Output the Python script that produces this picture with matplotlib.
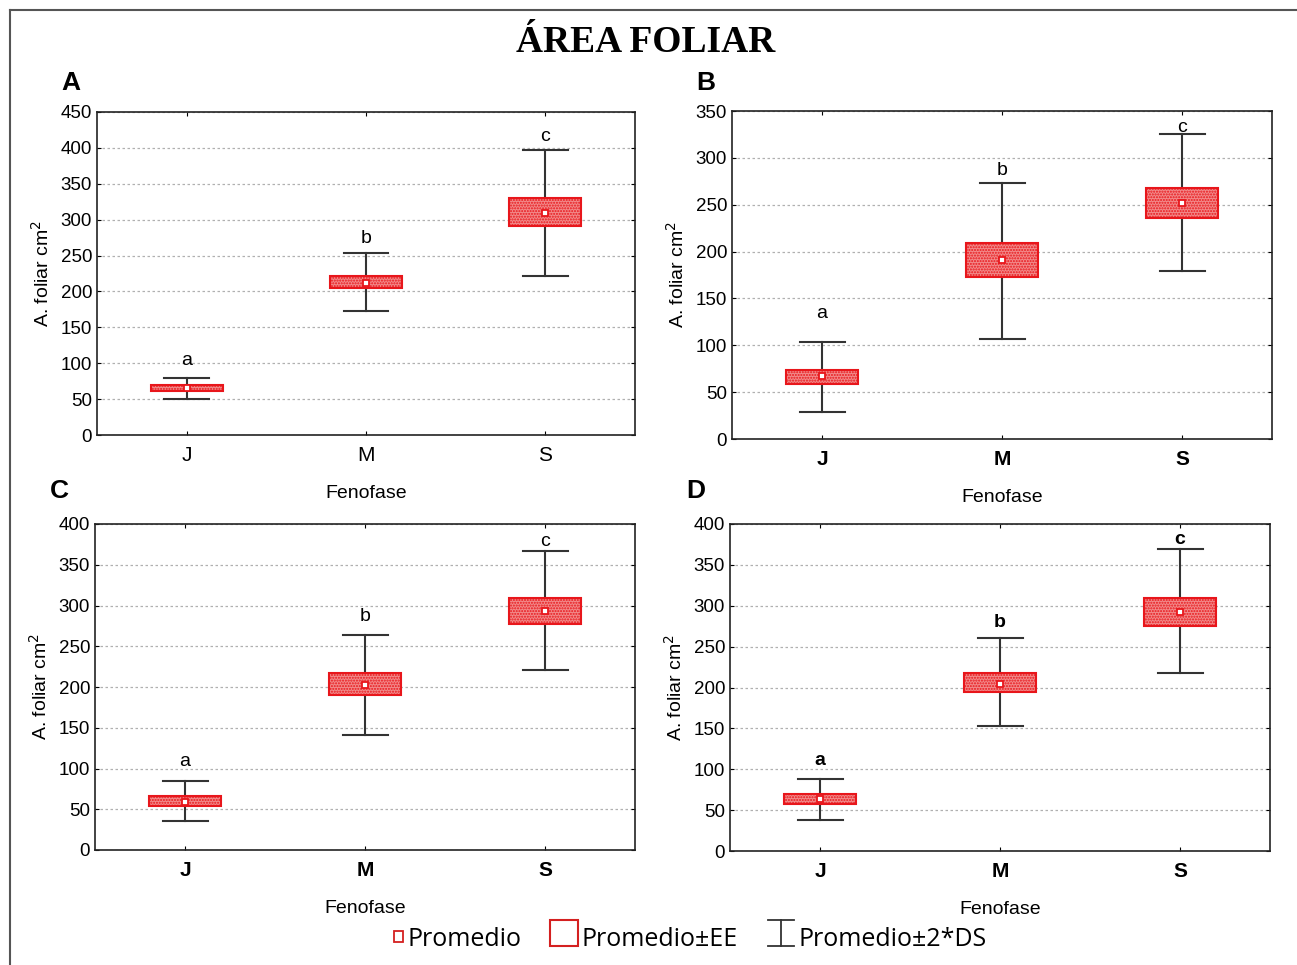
import matplotlib.pyplot as plt
from matplotlib.patches import Rectangle
from matplotlib.lines import Line2D

W, H = 1297, 965

# fenofase categories
fases = ['J', 'M', 'S']

# panel A
a_mean = [65, 212, 309]
a_se_lo = [61, 205, 291]
a_se_hi = [70, 221, 330]
a_ds_lo = [50, 173, 221]
a_ds_hi = [79, 254, 397]
a_lett = ['a', 'b', 'c']
a_lett_y = [104, 274, 416]

# panel B
b_mean = [67, 191, 252]
b_se_lo = [59, 173, 236]
b_se_hi = [74, 209, 268]
b_ds_lo = [29, 107, 179]
b_ds_hi = [104, 273, 325]
b_lett = ['a', 'b', 'c']
b_lett_y = [134, 287, 332]

# panel C
c_mean = [59, 202, 293]
c_se_lo = [54, 190, 277]
c_se_hi = [66, 217, 309]
c_ds_lo = [36, 141, 221]
c_ds_hi = [85, 264, 367]
c_lett = ['a', 'b', 'c']
c_lett_y = [109, 286, 379]

# panel D
d_mean = [64, 204, 292]
d_se_lo = [57, 194, 275]
d_se_hi = [70, 218, 309]
d_ds_lo = [38, 153, 218]
d_ds_hi = [88, 260, 369]
d_lett = ['a', 'b', 'c']
d_lett_y = [111, 280, 381]

plt.rcParams['font.family'] = ['Liberation Sans', 'DejaVu Sans']

fig = plt.figure(figsize=(W / 100, H / 100), dpi=100)


def rect(x0, y0, x1, y1):
    # pixel box (top-left origin) -> figure fraction
    return [x0 / W, 1 - y1 / H, (x1 - x0) / W, (y1 - y0) / H]


def panel(pos, tag, tag_xy, mean, se_lo, se_hi, ds_lo, ds_hi, lett, lett_y, ymax, ystep,
          xbold, lbold=False):
    ax = fig.add_axes(rect(*pos))
    for i in range(len(fases)):
        ax.plot([i, i], [ds_lo[i], ds_hi[i]], color='#333333', lw=1.5, zorder=2)
        for v in (ds_lo[i], ds_hi[i]):
            ax.plot([i - 0.125, i + 0.125], [v, v], color='#333333', lw=1.5, zorder=2)
        ax.add_patch(Rectangle((i - 0.2, se_lo[i]), 0.4, se_hi[i] - se_lo[i],
                               facecolor='#f28a8a', edgecolor='#e8161b', hatch='......',
                               lw=1.5, zorder=3))
        ax.plot(i, mean[i], marker='s', ms=5, mfc='white', mec='#e8161b', mew=1.3, zorder=4)
        ax.text(i, lett_y[i], lett[i], ha='center', va='center', fontsize=14,
                fontweight='bold' if lbold else 'normal')
    ax.set_xlim(-0.5, 2.5)
    ax.set_ylim(0, ymax)
    ax.set_yticks(range(0, ymax + 1, ystep))
    ax.set_xticks(range(3))
    ax.set_xticklabels(fases, fontsize=15, fontweight='bold' if xbold else 'normal')
    ax.tick_params(axis='y', labelsize=13.5, direction='in', length=3, right=True)
    ax.tick_params(axis='x', direction='in', length=3, top=True, pad=8)
    ax.yaxis.grid(True, linestyle=(0, (2, 2)), color='#b0b0b0', lw=0.9)
    ax.set_axisbelow(True)
    for s in ax.spines.values():
        s.set_color('#222222')
        s.set_linewidth(1.2)
    ax.set_ylabel('A. foliar cm$^2$', fontsize=14, labelpad=6)
    ax.set_xlabel('Fenofase', fontsize=14, labelpad=14)
    fig.text(tag_xy[0] / W, 1 - tag_xy[1] / H, tag, fontsize=19,
             fontweight='bold', ha='left', va='center')
    return ax


panel((97, 112, 635, 435), 'A', (61, 83), a_mean, a_se_lo, a_se_hi, a_ds_lo, a_ds_hi,
      a_lett, a_lett_y, 450, 50, False)
panel((732, 111, 1272, 439), 'B', (696, 83), b_mean, b_se_lo, b_se_hi, b_ds_lo, b_ds_hi,
      b_lett, b_lett_y, 350, 50, True)
panel((95, 524, 635, 850), 'C', (50, 491), c_mean, c_se_lo, c_se_hi, c_ds_lo, c_ds_hi,
      c_lett, c_lett_y, 400, 50, True)
panel((730, 524, 1270, 851), 'D', (686, 491), d_mean, d_se_lo, d_se_hi, d_ds_lo, d_ds_hi,
      d_lett, d_lett_y, 400, 50, True, lbold=True)

fig.text(646 / W, 1 - 42 / H, 'ÁREA FOLIAR', family=['Liberation Serif'],
         fontsize=27, fontweight='bold', ha='center', va='center')

# outer frame (top and left)
fig.add_artist(Line2D([10 / W, 1], [1 - 10 / H, 1 - 10 / H], color='#555555', lw=1.5))
fig.add_artist(Line2D([10 / W, 10 / W], [0, 1 - 10 / H], color='#555555', lw=1.5))

# legend
ly = 1 - 939 / H
lfont = ['Open Sans', 'DejaVu Sans']
fig.add_artist(Rectangle((394 / W, 1 - 942 / H), 9 / W, 11 / H, fill=False,
                         edgecolor='#d42020', lw=1.3))
fig.text(407 / W, ly, 'Promedio', fontsize=18, va='center', family=lfont)
fig.add_artist(Rectangle((550 / W, 1 - 946 / H), 28 / W, 26 / H, fill=False,
                         edgecolor='#d42020', lw=1.5))
fig.text(581 / W, ly, 'Promedio±EE', fontsize=18, va='center', family=lfont)
fig.add_artist(Line2D([781 / W, 781 / W], [1 - 946 / H, 1 - 920 / H], color='#333333', lw=1.3))
fig.add_artist(Line2D([768 / W, 794 / W], [1 - 920 / H, 1 - 920 / H], color='#333333', lw=1.3))
fig.add_artist(Line2D([768 / W, 794 / W], [1 - 946 / H, 1 - 946 / H], color='#333333', lw=1.3))
fig.text(799 / W, ly, 'Promedio±2*DS', fontsize=18, va='center', family=lfont)

fig.savefig('out.png', dpi=100)
